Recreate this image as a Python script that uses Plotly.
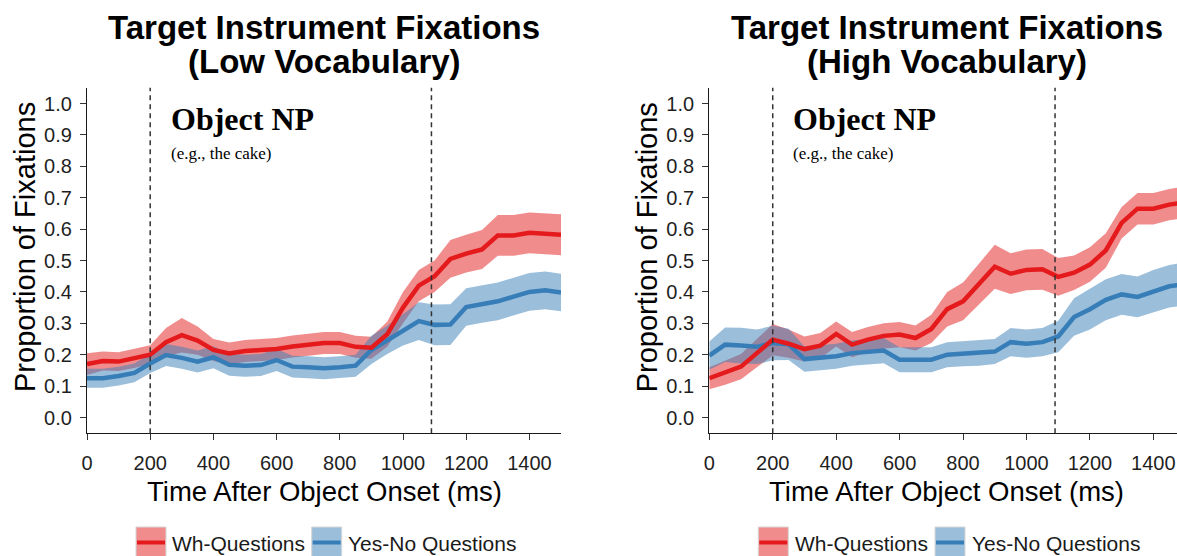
import plotly.graph_objects as go

# ---- data -------------------------------------------------------------
time_ms = [0, 50, 100, 150, 200, 250, 300, 350, 400, 450, 500, 550, 600, 650, 700,
           750, 800, 850, 900, 950, 1000, 1050, 1100, 1150, 1200, 1250, 1300, 1350,
           1400, 1450, 1500]

# Low vocabulary group
low_wh = [0.170, 0.180, 0.178, 0.188, 0.200, 0.240, 0.262, 0.245, 0.215, 0.204, 0.212,
          0.215, 0.218, 0.226, 0.232, 0.237, 0.237, 0.225, 0.222, 0.265, 0.350, 0.420,
          0.450, 0.505, 0.522, 0.535, 0.580, 0.580, 0.588, 0.585, 0.582]
low_wh_se = [0.035, 0.030, 0.030, 0.030, 0.030, 0.045, 0.055, 0.045, 0.035, 0.035, 0.035,
             0.035, 0.035, 0.035, 0.035, 0.035, 0.035, 0.035, 0.035, 0.040, 0.050, 0.050,
             0.050, 0.060, 0.060, 0.062, 0.065, 0.065, 0.065, 0.065, 0.065]
low_yn = [0.125, 0.125, 0.132, 0.142, 0.172, 0.199, 0.190, 0.178, 0.192, 0.168, 0.165,
          0.167, 0.183, 0.162, 0.160, 0.157, 0.160, 0.165, 0.215, 0.247, 0.279, 0.307,
          0.295, 0.296, 0.352, 0.362, 0.370, 0.385, 0.400, 0.405, 0.398]
low_yn_se = [0.030, 0.030, 0.030, 0.030, 0.030, 0.035, 0.035, 0.035, 0.035, 0.035, 0.035,
             0.035, 0.035, 0.035, 0.035, 0.035, 0.035, 0.035, 0.045, 0.045, 0.050, 0.060,
             0.065, 0.065, 0.060, 0.060, 0.060, 0.060, 0.060, 0.060, 0.060]

# High vocabulary group
high_wh = [0.125, 0.142, 0.162, 0.205, 0.248, 0.235, 0.218, 0.229, 0.266, 0.232, 0.248,
           0.260, 0.264, 0.253, 0.282, 0.345, 0.370, 0.425, 0.480, 0.458, 0.470, 0.472,
           0.448, 0.461, 0.487, 0.532, 0.620, 0.665, 0.665, 0.678, 0.685]
high_wh_se = [0.035, 0.038, 0.040, 0.045, 0.050, 0.045, 0.040, 0.040, 0.040, 0.040, 0.040,
              0.040, 0.040, 0.040, 0.045, 0.055, 0.060, 0.065, 0.070, 0.065, 0.065, 0.065,
              0.060, 0.055, 0.055, 0.055, 0.050, 0.050, 0.050, 0.050, 0.050]
high_yn = [0.197, 0.232, 0.229, 0.225, 0.237, 0.233, 0.186, 0.190, 0.195, 0.205, 0.210,
           0.213, 0.184, 0.184, 0.184, 0.200, 0.203, 0.205, 0.210, 0.240, 0.235, 0.240,
           0.258, 0.320, 0.345, 0.375, 0.392, 0.384, 0.402, 0.418, 0.425]
high_yn_se = [0.045, 0.055, 0.057, 0.055, 0.055, 0.050, 0.040, 0.040, 0.040, 0.040, 0.040,
              0.040, 0.040, 0.040, 0.040, 0.040, 0.040, 0.040, 0.040, 0.045, 0.045, 0.045,
              0.050, 0.060, 0.065, 0.065, 0.065, 0.065, 0.068, 0.068, 0.068]

onset_markers = [200, 1090]
y_ticks = [0.0, 0.1, 0.2, 0.3, 0.4, 0.5, 0.6, 0.7, 0.8, 0.9, 1.0]
x_ticks = [0, 200, 400, 600, 800, 1000, 1200, 1400]
panel_titles = ["Target Instrument Fixations", "Target Instrument Fixations"]
panel_subtitles = ["(Low Vocabulary)", "(High Vocabulary)"]
series_names = ["Wh-Questions", "Yes-No Questions"]

# ---- style ------------------------------------------------------------
RED = "#E41A1C"
BLUE = "#377EB8"
RED_BAND = "rgba(228,26,28,0.5)"
BLUE_BAND = "rgba(55,126,184,0.5)"
SANS = "Liberation Sans, Arial, sans-serif"
SERIF = "Liberation Serif, Times New Roman, serif"
W, H = 1177, 556

fig = go.Figure()


def ribbon(xs, mean, se, color, xa, ya):
    upper = [m + s for m, s in zip(mean, se)]
    lower = [m - s for m, s in zip(mean, se)]
    fig.add_trace(go.Scatter(
        x=list(xs) + list(xs)[::-1], y=upper + lower[::-1],
        fill="toself", fillcolor=color, line=dict(width=0), mode="lines",
        hoverinfo="skip", showlegend=False, xaxis=xa, yaxis=ya))


def mean_line(xs, mean, color, xa, ya, name):
    fig.add_trace(go.Scatter(
        x=xs, y=mean, mode="lines", line=dict(color=color, width=4.5),
        name=name, showlegend=False, xaxis=xa, yaxis=ya))


panels = [
    ("x", "y", low_wh, low_wh_se, low_yn, low_yn_se),
    ("x2", "y2", high_wh, high_wh_se, high_yn, high_yn_se),
]
for xa, ya, wh, wh_se, yn, yn_se in panels:
    ribbon(time_ms, wh, wh_se, RED_BAND, xa, ya)
    ribbon(time_ms, yn, yn_se, BLUE_BAND, xa, ya)
    mean_line(time_ms, yn, BLUE, xa, ya, series_names[1])
    mean_line(time_ms, wh, RED, xa, ya, series_names[0])

# panel placement (pixels)
left_px = (87, 561)
right_px = (709.3, 1177)
top_px, bottom_px = 87.8, 433.2
y_dom = [(H - bottom_px) / H, (H - top_px) / H]

axis_common = dict(
    showgrid=False, zeroline=False, showline=True, linecolor="#1a1a1a", linewidth=1.3,
    ticks="outside", ticklen=6, tickwidth=1.3, tickcolor="#333333", automargin=False,
    tickfont=dict(family=SANS, size=20, color="#1f1f1f"),
)

fig.update_layout(
    width=W, height=H, margin=dict(l=0, r=0, t=0, b=0, autoexpand=False),
    paper_bgcolor="white", plot_bgcolor="white", showlegend=False,
    xaxis=dict(domain=[left_px[0] / W, left_px[1] / W], range=[0, 1500],
               tickvals=x_ticks, anchor="y", ticklabelstandoff=6, **axis_common),
    yaxis=dict(domain=y_dom, range=[-0.05, 1.05], tickvals=y_ticks,
               tickformat=".1f", anchor="x", ticklabelstandoff=4, **axis_common),
    xaxis2=dict(domain=[right_px[0] / W, 1.0], range=[0, 1474.5],
                tickvals=x_ticks, anchor="y2", ticklabelstandoff=6, **axis_common),
    yaxis2=dict(domain=y_dom, range=[-0.05, 1.05], tickvals=y_ticks,
                tickformat=".1f", anchor="x2", ticklabelstandoff=4, **axis_common),
)

# onset markers
for xa, ya in [("x", "y"), ("x2", "y2")]:
    for t in onset_markers:
        fig.add_shape(type="line", xref=xa, yref=f"{ya} domain", x0=t, x1=t, y0=0, y1=1,
                      line=dict(color="#333333", width=1.5, dash="5px,4px"))
    fig.add_annotation(xref=xa, yref=ya, x=258, y=0.95, text="<b>Object NP</b>",
                       showarrow=False, xanchor="left", yanchor="middle",
                       font=dict(family=SERIF, size=32, color="black"))
    fig.add_annotation(xref=xa, yref=ya, x=258, y=0.84, text="(e.g., the cake)",
                       showarrow=False, xanchor="left", yanchor="middle",
                       font=dict(family=SERIF, size=17, color="black"))

# titles and axis titles
for (x0, x1), title, sub in [(left_px, panel_titles[0], panel_subtitles[0]),
                             ((709.3, 1184.5), panel_titles[1], panel_subtitles[1])]:
    cx = (x0 + x1) / 2 / W
    fig.add_annotation(xref="paper", yref="paper", x=cx, y=(H - 27) / H,
                       text=f"<b>{title}</b>", showarrow=False, xanchor="center",
                       yanchor="middle", font=dict(family=SANS, size=33, color="black"))
    fig.add_annotation(xref="paper", yref="paper", x=cx, y=(H - 62) / H,
                       text=f"<b>{sub}</b>", showarrow=False, xanchor="center",
                       yanchor="middle", font=dict(family=SANS, size=33, color="black"))
    fig.add_annotation(xref="paper", yref="paper", x=cx, y=(H - 491) / H,
                       text="Time After Object Onset (ms)", showarrow=False,
                       xanchor="center", yanchor="middle",
                       font=dict(family=SANS, size=27.5, color="black"))
    fig.add_annotation(xref="paper", yref="paper", x=(x0 - 62) / W,
                       y=(H - 247) / H, text="Proportion of Fixations",
                       showarrow=False, textangle=-90, xanchor="center",
                       yanchor="middle", font=dict(family=SANS, size=29, color="black"))

# legend keys drawn under each panel
legend_rows = [
    [(136, 170, RED_BAND, RED, series_names[0]), (311.7, 345.5, BLUE_BAND, BLUE, series_names[1])],
    [(758.3, 793, RED_BAND, RED, series_names[0]), (935, 970, BLUE_BAND, BLUE, series_names[1])],
]
key_top, key_bottom, key_mid = 527, 562, 542.5
for row in legend_rows:
    for bx, tx, band, col, label in row:
        fig.add_shape(type="rect", xref="paper", yref="paper",
                      x0=bx / W, x1=(bx + 30) / W,
                      y0=(H - key_bottom) / H, y1=(H - key_top) / H,
                      fillcolor=band, line=dict(color="#d6d6d6", width=1))
        fig.add_shape(type="line", xref="paper", yref="paper",
                      x0=(bx + 1) / W, x1=(bx + 29) / W,
                      y0=(H - key_mid) / H, y1=(H - key_mid) / H,
                      line=dict(color=col, width=4))
        fig.add_annotation(xref="paper", yref="paper", x=tx / W, y=(H - 543) / H,
                           text=label, showarrow=False, xanchor="left", yanchor="middle",
                           font=dict(family=SANS, size=21, color="#1a1a1a"))

fig.write_html("out.html")
